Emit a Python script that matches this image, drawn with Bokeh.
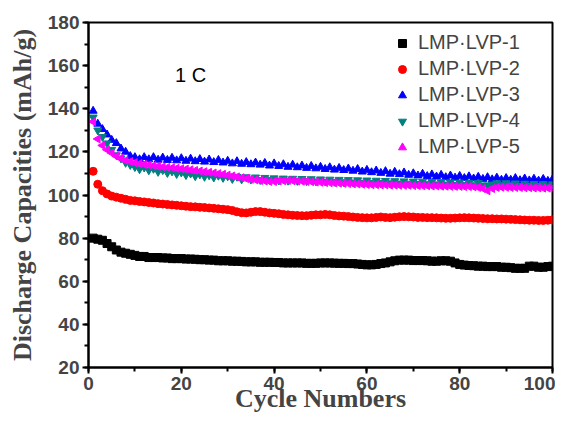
from bokeh.plotting import figure
from bokeh.models import Range1d, SingleIntervalTicker, Legend, LegendItem
from bokeh.core.properties import value
from bokeh.embed import file_html
from bokeh.resources import INLINE

cycles = list(range(1, 101))

lvp1 = [80, 79.5, 79, 77.5, 76, 74.5, 73.5, 73, 72.5, 72,
        71.5, 71.5, 71, 71, 71, 70.8, 70.8, 70.5, 70.5, 70.5,
        70.3, 70.3, 70.2, 70, 70, 69.8, 69.8, 69.5, 69.5, 69.5,
        69.3, 69.3, 69.2, 69, 69, 69, 68.8, 68.8, 68.8, 68.7,
        68.7, 68.5, 68.5, 68.5, 68.5, 68.5, 68.3, 68.3, 68.3, 68.5,
        68.5, 68.5, 68.4, 68.3, 68.3, 68.2, 68.2, 68, 67.8, 67.6,
        67.6, 67.8, 68.2, 68.5, 69, 69.5, 69.8, 69.8, 69.8, 69.6,
        69.6, 69.6, 69.5, 69.3, 69.3, 69.5, 69.5, 69.3, 68.5, 67.8,
        67.5, 67.3, 67.2, 67, 67, 66.8, 66.8, 66.8, 66.5, 66.5,
        66.3, 66, 66, 66, 67, 67, 66.5, 66.5, 66.8, 67]

lvp2 = [111, 105, 102, 100.5, 99.5, 99, 98.5, 98, 97.5, 97.3,
        97, 96.8, 96.5, 96.3, 96, 95.8, 95.6, 95.4, 95.2, 95,
        94.8, 94.6, 94.5, 94.3, 94.2, 94, 93.8, 93.6, 93.4, 93.2,
        92.8, 92.2, 91.8, 91.7, 92, 92.3, 92.3, 92, 91.7, 91.5,
        91.3, 91, 90.8, 90.6, 90.5, 90.4, 90.4, 90.6, 90.8, 90.8,
        91, 90.8, 90.5, 90.3, 90.2, 90, 89.8, 89.6, 89.5, 89.4,
        89.4, 89.6, 89.8, 89.6, 89.5, 89.7, 89.9, 90, 89.9, 89.8,
        89.6, 89.6, 89.5, 89.5, 89.4, 89.3, 89.2, 89.2, 89.3, 89.4,
        89.5, 89.4, 89.3, 89.2, 89.1, 89, 89, 88.9, 88.9, 88.8,
        88.7, 88.6, 88.5, 88.4, 88.3, 88.3, 88.2, 88.2, 88.3, 88.5]

lvp3 = [139, 133, 130.5, 128, 125.5, 124, 121.5, 120, 118, 117.5,
        116.5, 117.5, 116.5, 117.5, 116.3, 117.3, 116.2, 117.2, 116, 117,
        115.8, 116.8, 115.6, 116.6, 115.4, 116.4, 115.2, 116.2, 115, 115.8,
        114.6, 115.6, 114.4, 115.2, 114.2, 115, 114, 114.8, 113.6, 114.6,
        113.4, 114.2, 113, 114, 112.8, 113.6, 112.5, 113.4, 112.3, 113,
        112, 112.8, 111.7, 112.5, 111.5, 112.2, 111.2, 112, 110.8, 111.6,
        110.5, 111.3, 110.2, 111, 109.8, 110.7, 109.6, 110.4, 109.3, 110,
        109, 109.8, 108.7, 109.5, 108.5, 109.3, 108.2, 109, 108, 108.8,
        107.8, 108.6, 107.6, 108.4, 107.4, 108.2, 107.2, 108, 107, 107.8,
        107, 107.8, 106.8, 107.6, 106.7, 107.5, 106.6, 107.4, 106.5, 107.3]

lvp4 = [136, 130, 127, 124, 121, 118.5, 117, 115, 114, 113,
        112, 112.8, 111.5, 112.2, 110.8, 111.6, 110.3, 111, 109.8, 110.5,
        109.3, 110, 108.8, 109.6, 108.5, 109.2, 108.2, 109, 108, 108.7,
        107.5, 108.5, 107.3, 108.3, 107.2, 108.2, 107, 108, 107, 107.8,
        106.8, 107.7, 106.7, 107.6, 106.6, 107.5, 106.5, 107.4, 106.4, 107.3,
        106.3, 107.2, 106.2, 107.1, 106, 107, 105.9, 106.9, 105.8, 106.8,
        105.7, 106.7, 105.6, 106.6, 105.5, 106.5, 105.4, 106.4, 105.3, 106.3,
        105.2, 106.2, 105.1, 106.1, 105, 106, 104.9, 105.9, 104.8, 105.8,
        104.7, 105.7, 104.6, 105.6, 104.5, 104.5, 104.8, 105.5, 104.5, 105.5,
        104.4, 105.4, 104.3, 105.3, 104.2, 105.2, 104.1, 105.1, 104, 105]

lvp5 = [134, 126, 123, 121, 119.5, 118, 117, 116, 115.5, 115,
        114.6, 114.2, 113.9, 113.6, 113.3, 113, 112.8, 112.6, 112.4, 112.2,
        112, 111.7, 111.4, 111.1, 110.8, 110.5, 110.2, 109.9, 109.6, 109.2,
        108.8, 108.4, 108, 107.6, 107.3, 107, 106.7, 106.5, 106.3, 106.3,
        106.5, 106.6, 106.7, 106.6, 106.5, 106.4, 106.3, 106.2, 106, 105.9,
        105.8, 105.7, 105.6, 105.5, 105.4, 105.3, 105.2, 105.1, 105, 104.9,
        104.8, 104.8, 104.7, 104.7, 104.6, 104.6, 104.5, 104.5, 104.5, 104.4,
        104.4, 104.3, 104.3, 104.2, 104.2, 104.1, 104.1, 104, 104, 104,
        103.9, 103.9, 103.8, 103.5, 103, 102, 103, 103.5, 103.6, 103.6,
        103.5, 103.5, 103.5, 103.4, 103.4, 103.3, 103.3, 103.2, 103.2, 103.2]

series_names = ["LMP\u00b7LVP-1", "LMP\u00b7LVP-2", "LMP\u00b7LVP-3", "LMP\u00b7LVP-4", "LMP\u00b7LVP-5"]
series_values = [lvp1, lvp2, lvp3, lvp4, lvp5]
series_colors = ["#000000", "#ff0000", "#0000ff", "#008080", "#ff00ff"]
series_markers = ["square", "circle", "triangle", "inverted_triangle", "triangle"]
series_angles = [0, 0, 0, 0, 1.5708]

x_title = "Cycle Numbers"
y_title = "Discharge Capacities (mAh/g)"
rate_label = "1 C"
rate_x = [22]
rate_y = [155.5]

p = figure(width=555, height=419, output_backend="svg", toolbar_location=None,
           x_range=Range1d(0, 100), y_range=Range1d(20, 180),
           min_border_left=88, min_border_right=3, min_border_top=22, min_border_bottom=52)

items = []
for name, vals, col, mk, ang in zip(series_names, series_values, series_colors, series_markers, series_angles):
    r = p.scatter(cycles, vals, marker=mk, size=8, angle=ang, fill_color=col, line_color=col)
    items.append(LegendItem(label=name, renderers=[r]))

p.text(x=rate_x, y=rate_y, text=[rate_label], text_font=value("Liberation Sans"),
       text_font_size="20px", text_align="center", text_baseline="middle", text_color="#000000")

legend = Legend(items=items, location=(304, 209), border_line_color=None,
                background_fill_alpha=0, padding=0, margin=0, spacing=3,
                label_height=22, glyph_height=22, glyph_width=20, label_standoff=6,
                label_text_font="Liberation Sans", label_text_font_size="20px")
p.add_layout(legend, "center")

p.grid.visible = False
p.outline_line_color = "#000000"
p.outline_line_width = 2

for ax in (p.xaxis[0], p.yaxis[0]):
    ax.axis_line_width = 2
    ax.major_tick_line_width = 2
    ax.minor_tick_line_width = 2
    ax.major_tick_out = 6
    ax.major_tick_in = 0
    ax.minor_tick_out = 4
    ax.minor_tick_in = 0
    ax.major_label_text_font = "Liberation Sans"
    ax.major_label_text_font_style = "bold"
    ax.major_label_text_font_size = "19px"
    ax.axis_label_text_font = "Liberation Serif"
    ax.axis_label_text_font_style = "bold"
    ax.axis_label_text_font_size = "26px"

p.xaxis[0].ticker = SingleIntervalTicker(interval=20, num_minor_ticks=2)
p.yaxis[0].ticker = SingleIntervalTicker(interval=20, num_minor_ticks=2)
p.xaxis[0].axis_label = x_title
p.yaxis[0].axis_label = y_title
p.xaxis[0].major_label_standoff = 3
p.yaxis[0].major_label_standoff = 3
p.xaxis[0].axis_label_standoff = -9
p.yaxis[0].axis_label_standoff = 8

open("out.html", "w").write(file_html(p, INLINE))
